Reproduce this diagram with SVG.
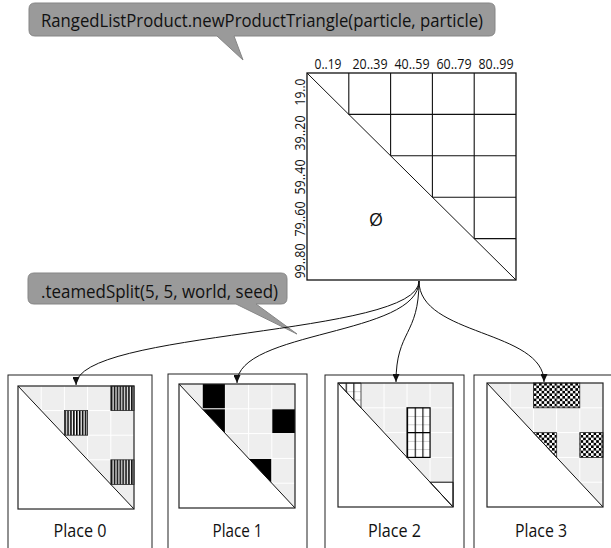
<svg xmlns="http://www.w3.org/2000/svg" width="611" height="548" viewBox="0 0 611 548">
<defs>
<style>
.t{font-family:"Open Sans","Noto Sans","Liberation Sans",sans-serif;fill:#111;}
.call{fill:#9a9a9a;stroke:#858585;stroke-width:1;}
.box{fill:#fff;stroke:#222;stroke-width:1;}
.mat{fill:#fff;stroke:#111;stroke-width:1.3;}
.gl{fill:none;stroke:#111;stroke-width:1.1;}
.diag{fill:none;stroke:#111;stroke-width:1;}
.tri{fill:#eeeeee;stroke:none;}
.wg{fill:none;stroke:#fff;stroke-width:1;}
.pc{stroke:#222;stroke-width:0.8;}
.conn{fill:none;stroke:#111;stroke-width:1;marker-end:url(#ah);}
</style>
<marker id="ah" markerWidth="8" markerHeight="7" refX="8" refY="3.5" orient="auto" markerUnits="userSpaceOnUse">
<path d="M0,0 L8,3.5 L0,7 z" fill="#111"/>
</marker>
<pattern id="vs" width="2.9" height="10" patternUnits="userSpaceOnUse">
<rect width="2.9" height="10" fill="#fff"/>
<rect width="1.6" height="10" fill="#000"/>
</pattern>
<pattern id="grid" width="7.733" height="8.267" patternUnits="userSpaceOnUse">
<rect width="7.733" height="8.267" fill="#fff"/>
<path d="M0,0 H7.733" stroke="#888" stroke-width="0.8"/>
<path d="M0.5,0 V8.267" stroke="#000" stroke-width="1.2"/>
</pattern>
<pattern id="chk" width="5.2" height="5.2" patternUnits="userSpaceOnUse">
<rect width="5.2" height="5.2" fill="#fff"/>
<rect width="2.6" height="2.6" fill="#000"/>
<rect x="2.6" y="2.6" width="2.6" height="2.6" fill="#000"/>
</pattern>
<g id="base">
<rect width="116" height="124" fill="#fff"/>
<polygon class="tri" points="0,0 116,0 116,124"/>
</g>
<path id="wgrid" class="wg" d="M23.2,0V24.8 M46.4,0V49.6 M69.6,0V74.4 M92.8,0V99.2 M23.2,24.8H116 M46.4,49.6H116 M69.6,74.4H116 M92.8,99.2H116"/>
<g id="frame">
<path class="diag" d="M0,0 L116,124"/>
<rect width="116" height="124" fill="none" stroke="#222" stroke-width="1.2"/>
</g>
</defs>

<g id="callout-top">
<path class="call" d="M35,3 H489 Q495,3 495,9 V30 Q495,36 489,36 H234 L243,60 L217,36 H35 Q29,36 29,30 V9 Q29,3 35,3 Z"/>
<text class="t" x="41" y="27" font-size="19" textLength="442" lengthAdjust="spacingAndGlyphs">RangedListProduct.newProductTriangle(particle, particle)</text>
</g>

<g id="matrix">
<rect class="mat" x="307" y="73" width="209" height="207"/>
<path class="gl" d="M348.8,73V114.4 M390.6,73V155.8 M432.4,73V197.2 M474.2,73V238.6 M348.8,114.4H516 M390.6,155.8H516 M432.4,197.2H516 M474.2,238.6H516"/>
<path class="diag" d="M307,73 L516,280"/>
<g class="t" font-size="14" text-anchor="middle">
<text x="328" y="69" textLength="27" lengthAdjust="spacingAndGlyphs">0..19</text>
<text x="370" y="69" textLength="35" lengthAdjust="spacingAndGlyphs">20..39</text>
<text x="412" y="69" textLength="35" lengthAdjust="spacingAndGlyphs">40..59</text>
<text x="454" y="69" textLength="35" lengthAdjust="spacingAndGlyphs">60..79</text>
<text x="496" y="69" textLength="35" lengthAdjust="spacingAndGlyphs">80..99</text>
<text transform="translate(305,92) rotate(-90)" textLength="27" lengthAdjust="spacingAndGlyphs">19..0</text>
<text transform="translate(305,133) rotate(-90)" textLength="35" lengthAdjust="spacingAndGlyphs">39..20</text>
<text transform="translate(305,177) rotate(-90)" textLength="35" lengthAdjust="spacingAndGlyphs">59..40</text>
<text transform="translate(305,219) rotate(-90)" textLength="35" lengthAdjust="spacingAndGlyphs">79..60</text>
<text transform="translate(305,261) rotate(-90)" textLength="35" lengthAdjust="spacingAndGlyphs">99..80</text>
</g>
<text class="t" x="376" y="226" font-size="18" text-anchor="middle">Ø</text>
</g>

<g id="callout-split">
<path class="call" d="M34,273 H281 Q287,273 287,279 V298 Q287,304 281,304 H256 L297,334 L236,304 H34 Q28,304 28,298 V279 Q28,273 34,273 Z"/>
<text class="t" x="41" y="298" font-size="19" textLength="237" lengthAdjust="spacingAndGlyphs">.teamedSplit(5, 5, world, seed)</text>
</g>

<g id="place0">
<rect class="box" x="8" y="375" width="144" height="175"/>
<g transform="translate(18,386) scale(1,0.992)">
<use href="#base"/>
<use href="#wgrid"/>
<rect class="pc" x="92.8" y="0" width="23.2" height="24.8" fill="url(#vs)"/>
<rect class="pc" x="46.4" y="24.8" width="23.2" height="24.8" fill="url(#vs)"/>
<rect class="pc" x="92.8" y="74.4" width="23.2" height="24.8" fill="url(#vs)"/>
<use href="#frame"/>
</g>
<text class="t" x="80" y="537" font-size="18" text-anchor="middle" textLength="53" lengthAdjust="spacingAndGlyphs">Place 0</text>
</g>

<g id="place1">
<rect class="box" x="168" y="374" width="139" height="176"/>
<g transform="translate(179,384)">
<use href="#base"/>
<rect x="23.2" y="0" width="23.2" height="24.8" fill="#000"/>
<polygon points="23.2,24.8 46.4,24.8 46.4,49.6" fill="#000"/>
<rect x="92.8" y="24.8" width="23.2" height="24.8" fill="#000"/>
<polygon points="69.6,74.4 92.8,74.4 92.8,99.2" fill="#000"/>
<use href="#wgrid"/>
<use href="#frame"/>
</g>
<text class="t" x="237.5" y="537" font-size="18" text-anchor="middle" textLength="50" lengthAdjust="spacingAndGlyphs">Place 1</text>
</g>

<g id="place2">
<rect class="box" x="325" y="375" width="139" height="175"/>
<g transform="translate(338,383) scale(0.992,1)">
<use href="#base"/>
<use href="#wgrid"/>
<polygon class="pc" points="0,0 23.2,0 23.2,24.8" fill="url(#grid)" stroke="#000" stroke-width="1"/>
<rect x="69.6" y="24.8" width="23.2" height="49.6" fill="url(#grid)" stroke="#000" stroke-width="1.2"/>
<path d="M69.6,49.6H92.8" stroke="#000" stroke-width="1.2"/>
<polygon points="92.8,99.2 116,99.2 116,124" fill="#fff" stroke="#000" stroke-width="1"/>
<use href="#frame"/>
</g>
<text class="t" x="394.5" y="537" font-size="18" text-anchor="middle" textLength="53" lengthAdjust="spacingAndGlyphs">Place 2</text>
</g>

<g id="place3">
<rect class="box" x="474" y="375" width="145" height="175"/>
<g transform="translate(487,383)">
<use href="#base"/>
<use href="#wgrid"/>
<rect class="pc" x="46.4" y="0" width="46.4" height="24.8" fill="url(#chk)"/>
<path d="M69.6,0V24.8" stroke="#666" stroke-width="0.8"/>
<polygon class="pc" points="46.4,49.6 69.6,49.6 69.6,74.4" fill="url(#chk)"/>
<rect class="pc" x="92.8" y="49.6" width="23.2" height="24.8" fill="url(#chk)"/>
<use href="#frame"/>
</g>
<text class="t" x="541" y="537" font-size="18" text-anchor="middle" textLength="52" lengthAdjust="spacingAndGlyphs">Place 3</text>
</g>

<g id="connectors">
<path class="conn" d="M419,281 C419,336 76,330 76,385"/>
<path class="conn" d="M419,281 C419,336 237,330 237,383"/>
<path class="conn" d="M419,281 C419,336 396,330 396,382"/>
<path class="conn" d="M419,281 C419,336 544,330 544,382"/>
</g>
</svg>
